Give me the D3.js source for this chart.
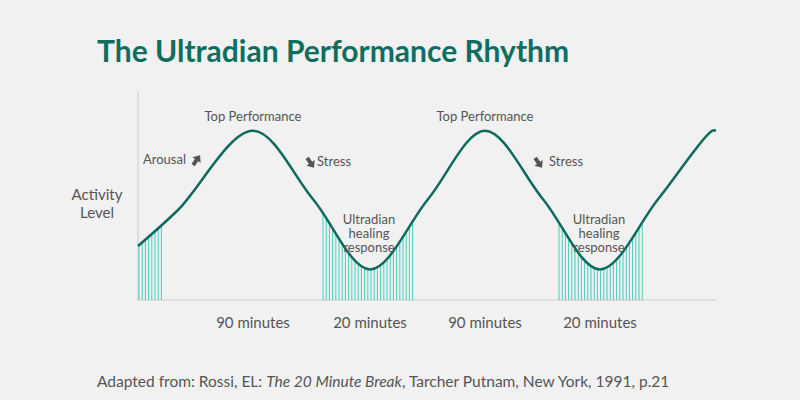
<!DOCTYPE html>
<html><head><meta charset="utf-8">
<script src="https://cdn.jsdelivr.net/npm/d3@7"></script>
<style>body{margin:0;background:#f1f1f1;font-family:Lato,"Open Sans",sans-serif;}</style>
</head><body><div id="chart"></div>
<script>
// curve key points: time (arbitrary units) and activity level (0-100)
var times = [0, 40, 115, 175, 232, 290, 347, 405, 462, 520, 574, 578];
var levels = [30, 50, 94, 56, 17, 56, 94, 56, 17, 56, 94, 94];
var periodLabels = ["90 minutes", "20 minutes", "90 minutes", "20 minutes"];
var periodCenters = [115, 232, 347, 462];
var hatchRanges = [[0, 23], [184, 275], [420, 505]];
var peakLabels = [115, 347];

var width = 800, height = 400;
var svg = d3.select("#chart").append("svg").attr("width", width).attr("height", height);
svg.append("rect").attr("width", width).attr("height", height).attr("fill", "#f1f1f1");

var xScale = d3.scaleLinear().domain([0, 578]).range([138, 716]);
var yScale = d3.scaleLinear().domain([0, 100]).range([300, 120]);
var pts = times.map((t, i) => ({ t: t, v: levels[i] }));
var curve = d3.curveCatmullRom.alpha(0.5);

svg.append("text").attr("x", 97).attr("y", 62).text("The Ultradian Performance Rhythm")
    .style("font-size", "30px").style("font-weight", "bold").attr("fill", "#0f6e5f");

// axes
svg.append("line").attr("x1", 138).attr("x2", 138).attr("y1", 92).attr("y2", 300).attr("stroke", "#ccc");
svg.append("line").attr("x1", 138).attr("x2", 716).attr("y1", 300).attr("y2", 300).attr("stroke", "#ccc");

// hatching clipped to area under curve
var area = d3.area().x(d => xScale(d.t)).y0(yScale(0)).y1(d => yScale(d.v)).curve(curve);
svg.append("clipPath").attr("id", "under").append("path").datum(pts).attr("d", area);
var hatch = svg.append("g").attr("clip-path", "url(#under)");
hatchRanges.forEach(r => {
    d3.range(r[0] + 1, r[1] + 0.5, 3.2).forEach(t => {
        hatch.append("line").attr("x1", xScale(t)).attr("x2", xScale(t))
            .attr("y1", 100).attr("y2", 300).attr("stroke", "#3fd0c0").attr("stroke-width", 1);
    });
});

var line = d3.line().x(d => xScale(d.t)).y(d => yScale(d.v)).curve(curve);
svg.append("path").datum(pts).attr("d", line).attr("fill", "none")
    .attr("stroke", "#0d6b5c").attr("stroke-width", 2.5);

var txt = (x, y, s, anchor, size) => svg.append("text").attr("x", x).attr("y", y).text(s)
    .attr("text-anchor", anchor || "middle").style("font-size", (size || 13) + "px").attr("fill", "#555");

peakLabels.forEach(t => txt(xScale(t), 121, "Top Performance"));
periodLabels.forEach((s, i) => txt(xScale(periodCenters[i]), 328, s, "middle", 15));
txt(186, 164, "Arousal", "end");
txt(317, 166, "Stress", "start");
txt(549, 166, "Stress", "start");
[[xScale(232), 224], [xScale(462), 224]].forEach(p => {
    ["Ultradian", "healing", "response"].forEach((s, i) => txt(p[0] - 1, p[1] + i * 14, s));
});
txt(97, 200, "Activity", "middle", 15);
txt(97, 218, "Level", "middle", 15);

// arrows
var arrow = "M-2,5 L-2,-1 L-5,-1 L0,-7 L5,-1 L2,-1 L2,5 Z";
[[196, 161, 35], [310, 162, 145], [538, 162, 145]].forEach(a => {
    svg.append("path").attr("d", arrow).attr("fill", "#555")
        .attr("transform", `translate(${a[0]},${a[1]}) rotate(${a[2]})`);
});

var foot = svg.append("text").attr("x", 97).attr("y", 387).style("font-size", "15.5px").attr("fill", "#555");
foot.append("tspan").text("Adapted from: Rossi, EL: ");
foot.append("tspan").text("The 20 Minute Break").style("font-style", "italic");
foot.append("tspan").text(", Tarcher Putnam, New York, 1991, p.21");
</script></body></html>
